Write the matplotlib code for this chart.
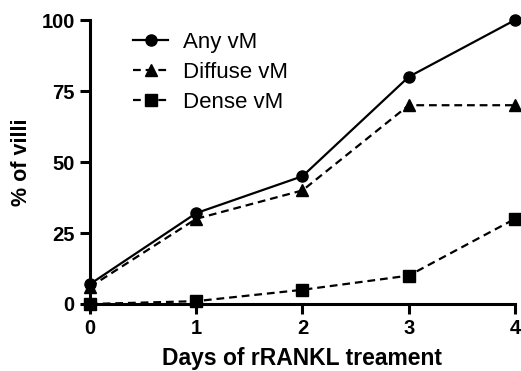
import matplotlib.pyplot as plt

plt.rcParams['font.family'] = ['Liberation Sans', 'DejaVu Sans']

days = [0, 1, 2, 3, 4]
any_vm = [7, 32, 45, 80, 100]
diffuse_vm = [6, 30, 40, 70, 70]
dense_vm = [0, 1, 5, 10, 30]

fig = plt.figure(figsize=(5.21, 3.71), dpi=100)
ax = fig.add_axes([0.1727, 0.1806, 0.8158, 0.7654])

lw = 1.6
ms = 8
ax.plot(days, any_vm, color='black', lw=lw, marker='o', ms=ms, clip_on=False,
        label='Any vM', zorder=4)
ax.plot(days, diffuse_vm, color='black', lw=lw, marker='^', ms=ms, clip_on=False,
        dashes=(3.5, 2.2), label='Diffuse vM', zorder=3)
ax.plot(days, dense_vm, color='black', lw=lw, marker='s', ms=ms, clip_on=False,
        dashes=(3.5, 2.2), label='Dense vM', zorder=3)

ax.set_xlim(0, 4)
ax.set_ylim(0, 100)
ax.set_xticks(days)
ax.set_yticks([0, 25, 50, 75, 100])

for s in ['top', 'right']:
    ax.spines[s].set_visible(False)
for s in ['left', 'bottom']:
    ax.spines[s].set_linewidth(2.2)

ax.tick_params(direction='out', length=7, width=2.2, labelsize=14.5, pad=4)
for lab in ax.get_xticklabels() + ax.get_yticklabels():
    lab.set_fontweight('bold')

ax.set_xlabel('Days of rRANKL treament', fontsize=16.5, fontweight='bold', labelpad=6.5)
ax.set_ylabel('% of villi', fontsize=15.5, fontweight='bold', labelpad=7)

ax.legend(loc='upper left', bbox_to_anchor=(0.08, 0.99), frameon=False,
          fontsize=16, handlelength=1.6, handletextpad=0.65, labelspacing=0.4,
          borderaxespad=0)

fig.savefig('out.png', dpi=100)
